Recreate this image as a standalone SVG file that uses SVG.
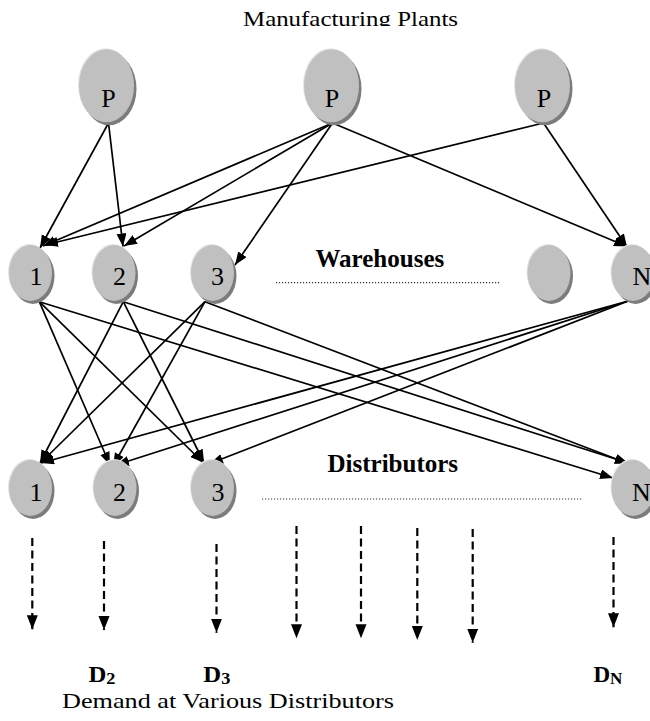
<svg xmlns="http://www.w3.org/2000/svg" width="650" height="721" viewBox="0 0 650 721">
<style>
  .sh{fill:#7c7c7c}
  .hl{fill:#e4e4e4}
  .bd{fill:#c0c0c0}
  .lbl{font-family:"Liberation Serif","Times New Roman",serif;font-size:26px;fill:#000}
  .cap{font-family:"Liberation Serif","Times New Roman",serif;font-size:22px;fill:#000}
  .bold{font-family:"Liberation Serif","Times New Roman",serif;font-size:25px;font-weight:bold;fill:#000}
  .dem{font-family:"Liberation Serif","Times New Roman",serif;font-size:23px;font-weight:bold;fill:#000}
  .e{stroke:#000;stroke-width:1.7;fill:none;marker-end:url(#ah)}
  .d{stroke:#000;stroke-width:2.2;fill:none;stroke-dasharray:8 4.5;marker-end:url(#dh)}
  .dot{stroke:#333;stroke-width:1.2;stroke-dasharray:1.2 1.8;fill:none}
</style>
<defs>
  <marker id="ah" markerUnits="userSpaceOnUse" markerWidth="14" markerHeight="11" refX="13" refY="5" orient="auto">
    <path d="M0,0 L13,5 L0,10 z" fill="#000"/>
  </marker>
  <marker id="dh" markerUnits="userSpaceOnUse" markerWidth="15" markerHeight="12" refX="14" refY="5.5" orient="auto">
    <path d="M0,0 L14,5.5 L0,11 z" fill="#000"/>
  </marker>
  <clipPath id="titleclip"><rect x="0" y="0" width="650" height="26"/></clipPath>
</defs>
<rect width="650" height="721" fill="#fff"/>

<text class="cap" x="243" y="25.5" textLength="215" lengthAdjust="spacingAndGlyphs" clip-path="url(#titleclip)">Manufacturing Plants</text>

<g id="connectors">
  <line class="e" x1="108.5" y1="123" x2="40" y2="248"/>
  <line class="e" x1="108.5" y1="123" x2="123" y2="246.5"/>
  <line class="e" x1="332.5" y1="123" x2="43" y2="246"/>
  <line class="e" x1="332.5" y1="123" x2="124" y2="246"/>
  <line class="e" x1="332.5" y1="123" x2="235" y2="265"/>
  <line class="e" x1="332.5" y1="123" x2="627" y2="246.5"/>
  <line class="e" x1="543.5" y1="123" x2="45" y2="245"/>
  <line class="e" x1="543.5" y1="123" x2="627" y2="247"/>

  <line class="e" x1="39.3" y1="301.7" x2="110" y2="465"/>
  <line class="e" x1="39.3" y1="301.7" x2="203" y2="462.5"/>
  <line class="e" x1="39.3" y1="301.7" x2="613" y2="478"/>
  <line class="e" x1="123.3" y1="301.7" x2="40" y2="463"/>
  <line class="e" x1="123.3" y1="301.7" x2="204" y2="462.5"/>
  <line class="e" x1="123.3" y1="301.7" x2="628" y2="463"/>
  <line class="e" x1="205" y1="301.7" x2="41" y2="462.5"/>
  <line class="e" x1="205" y1="301.7" x2="113" y2="466"/>
  <line class="e" x1="205" y1="301.7" x2="628" y2="463.5"/>
  <line class="e" x1="628.3" y1="301" x2="41" y2="463"/>
  <line class="e" x1="628.3" y1="301" x2="116" y2="465"/>
  <line class="e" x1="628.3" y1="301" x2="210" y2="463.5"/>

  <line class="d" x1="32.3" y1="538" x2="32.3" y2="629.3"/>
  <line class="d" x1="104" y1="541" x2="104" y2="630"/>
  <line class="d" x1="216.5" y1="544" x2="216.5" y2="632.7"/>
  <line class="d" x1="296.5" y1="526" x2="296.5" y2="638.3"/>
  <line class="d" x1="361" y1="526" x2="361" y2="638.3"/>
  <line class="d" x1="417.3" y1="528" x2="417.3" y2="640"/>
  <line class="d" x1="472.7" y1="529" x2="472.7" y2="642.7"/>
  <line class="d" x1="613.5" y1="537" x2="613.5" y2="627.3"/>
</g>

<g id="plant1">
  <ellipse class="sh" cx="109" cy="88.7" rx="27.5" ry="36.5"/>
  <ellipse class="hl" cx="105.5" cy="84.7" rx="27.5" ry="36.5"/>
  <ellipse class="bd" cx="106.5" cy="85.7" rx="27.5" ry="36.5"/>
  <text class="lbl" x="108.5" y="107" text-anchor="middle">P</text>
</g>
<g id="plant2">
  <ellipse class="sh" cx="334" cy="88.7" rx="27.5" ry="36.5"/>
  <ellipse class="hl" cx="330.5" cy="84.7" rx="27.5" ry="36.5"/>
  <ellipse class="bd" cx="331.5" cy="85.7" rx="27.5" ry="36.5"/>
  <text class="lbl" x="332" y="107" text-anchor="middle">P</text>
</g>
<g id="plant3">
  <ellipse class="sh" cx="545" cy="88.7" rx="27.5" ry="36.5"/>
  <ellipse class="hl" cx="541.5" cy="84.7" rx="27.5" ry="36.5"/>
  <ellipse class="bd" cx="542.5" cy="85.7" rx="27.5" ry="36.5"/>
  <text class="lbl" x="544" y="107" text-anchor="middle">P</text>
</g>

<g id="warehouse1">
  <ellipse class="sh" cx="33" cy="276" rx="21.5" ry="28"/>
  <ellipse class="hl" cx="29.5" cy="272" rx="21.5" ry="28"/>
  <ellipse class="bd" cx="30.5" cy="273" rx="21.5" ry="28"/>
  <text class="lbl" x="36" y="285" text-anchor="middle">1</text>
</g>
<g id="warehouse2">
  <ellipse class="sh" cx="116.5" cy="276" rx="21.5" ry="28"/>
  <ellipse class="hl" cx="113" cy="272" rx="21.5" ry="28"/>
  <ellipse class="bd" cx="114" cy="273" rx="21.5" ry="28"/>
  <text class="lbl" x="119.5" y="285" text-anchor="middle">2</text>
</g>
<g id="warehouse3">
  <ellipse class="sh" cx="215" cy="276" rx="21.5" ry="28"/>
  <ellipse class="hl" cx="211.5" cy="272" rx="21.5" ry="28"/>
  <ellipse class="bd" cx="212.5" cy="273" rx="21.5" ry="28"/>
  <text class="lbl" x="217.5" y="285" text-anchor="middle">3</text>
</g>
<g id="warehouse-blank">
  <ellipse class="sh" cx="551.5" cy="276" rx="21.5" ry="28"/>
  <ellipse class="hl" cx="548" cy="272" rx="21.5" ry="28"/>
  <ellipse class="bd" cx="549" cy="273" rx="21.5" ry="28"/>
</g>
<g id="warehouseN">
  <ellipse class="sh" cx="635.5" cy="276" rx="21.5" ry="28"/>
  <ellipse class="hl" cx="632" cy="272" rx="21.5" ry="28"/>
  <ellipse class="bd" cx="633" cy="273" rx="21.5" ry="28"/>
  <text class="lbl" x="632.5" y="285">N</text>
</g>

<g id="warehouses-label">
  <text class="bold" x="315.5" y="266.7">Warehouses</text>
  <line class="dot" x1="276" y1="282.7" x2="500" y2="282.7"/>
</g>

<g id="distributor1">
  <ellipse class="sh" cx="33" cy="491" rx="21.5" ry="28"/>
  <ellipse class="hl" cx="29.5" cy="487" rx="21.5" ry="28"/>
  <ellipse class="bd" cx="30.5" cy="488" rx="21.5" ry="28"/>
  <text class="lbl" x="36" y="500.5" text-anchor="middle">1</text>
</g>
<g id="distributor2">
  <ellipse class="sh" cx="117.5" cy="491" rx="21.5" ry="28"/>
  <ellipse class="hl" cx="114" cy="487" rx="21.5" ry="28"/>
  <ellipse class="bd" cx="115" cy="488" rx="21.5" ry="28"/>
  <text class="lbl" x="119.5" y="500.5" text-anchor="middle">2</text>
</g>
<g id="distributor3">
  <ellipse class="sh" cx="215" cy="491" rx="21.5" ry="28"/>
  <ellipse class="hl" cx="211.5" cy="487" rx="21.5" ry="28"/>
  <ellipse class="bd" cx="212.5" cy="488" rx="21.5" ry="28"/>
  <text class="lbl" x="218" y="500.5" text-anchor="middle">3</text>
</g>
<g id="distributorN">
  <ellipse class="sh" cx="635.5" cy="491" rx="21.5" ry="28"/>
  <ellipse class="hl" cx="632" cy="487" rx="21.5" ry="28"/>
  <ellipse class="bd" cx="633" cy="488" rx="21.5" ry="28"/>
  <text class="lbl" x="632" y="500.5">N</text>
</g>

<g id="distributors-label">
  <text class="bold" x="327.5" y="471.7">Distributors</text>
  <line class="dot" x1="262" y1="499" x2="583" y2="499"/>
</g>

<g id="demand-labels">
  <text class="dem" x="88.4" y="681.7" textLength="27" lengthAdjust="spacingAndGlyphs">D<tspan font-size="17" dy="2.3">2</tspan></text>
  <text class="dem" x="203.3" y="681.7" textLength="27" lengthAdjust="spacingAndGlyphs">D<tspan font-size="17" dy="2.3">3</tspan></text>
  <text class="dem" x="593.4" y="681.7" textLength="29" lengthAdjust="spacingAndGlyphs">D<tspan font-size="17" dy="2.3">N</tspan></text>
</g>

<text class="cap" x="62" y="708.3" textLength="332" lengthAdjust="spacingAndGlyphs">Demand at Various Distributors</text>
</svg>
